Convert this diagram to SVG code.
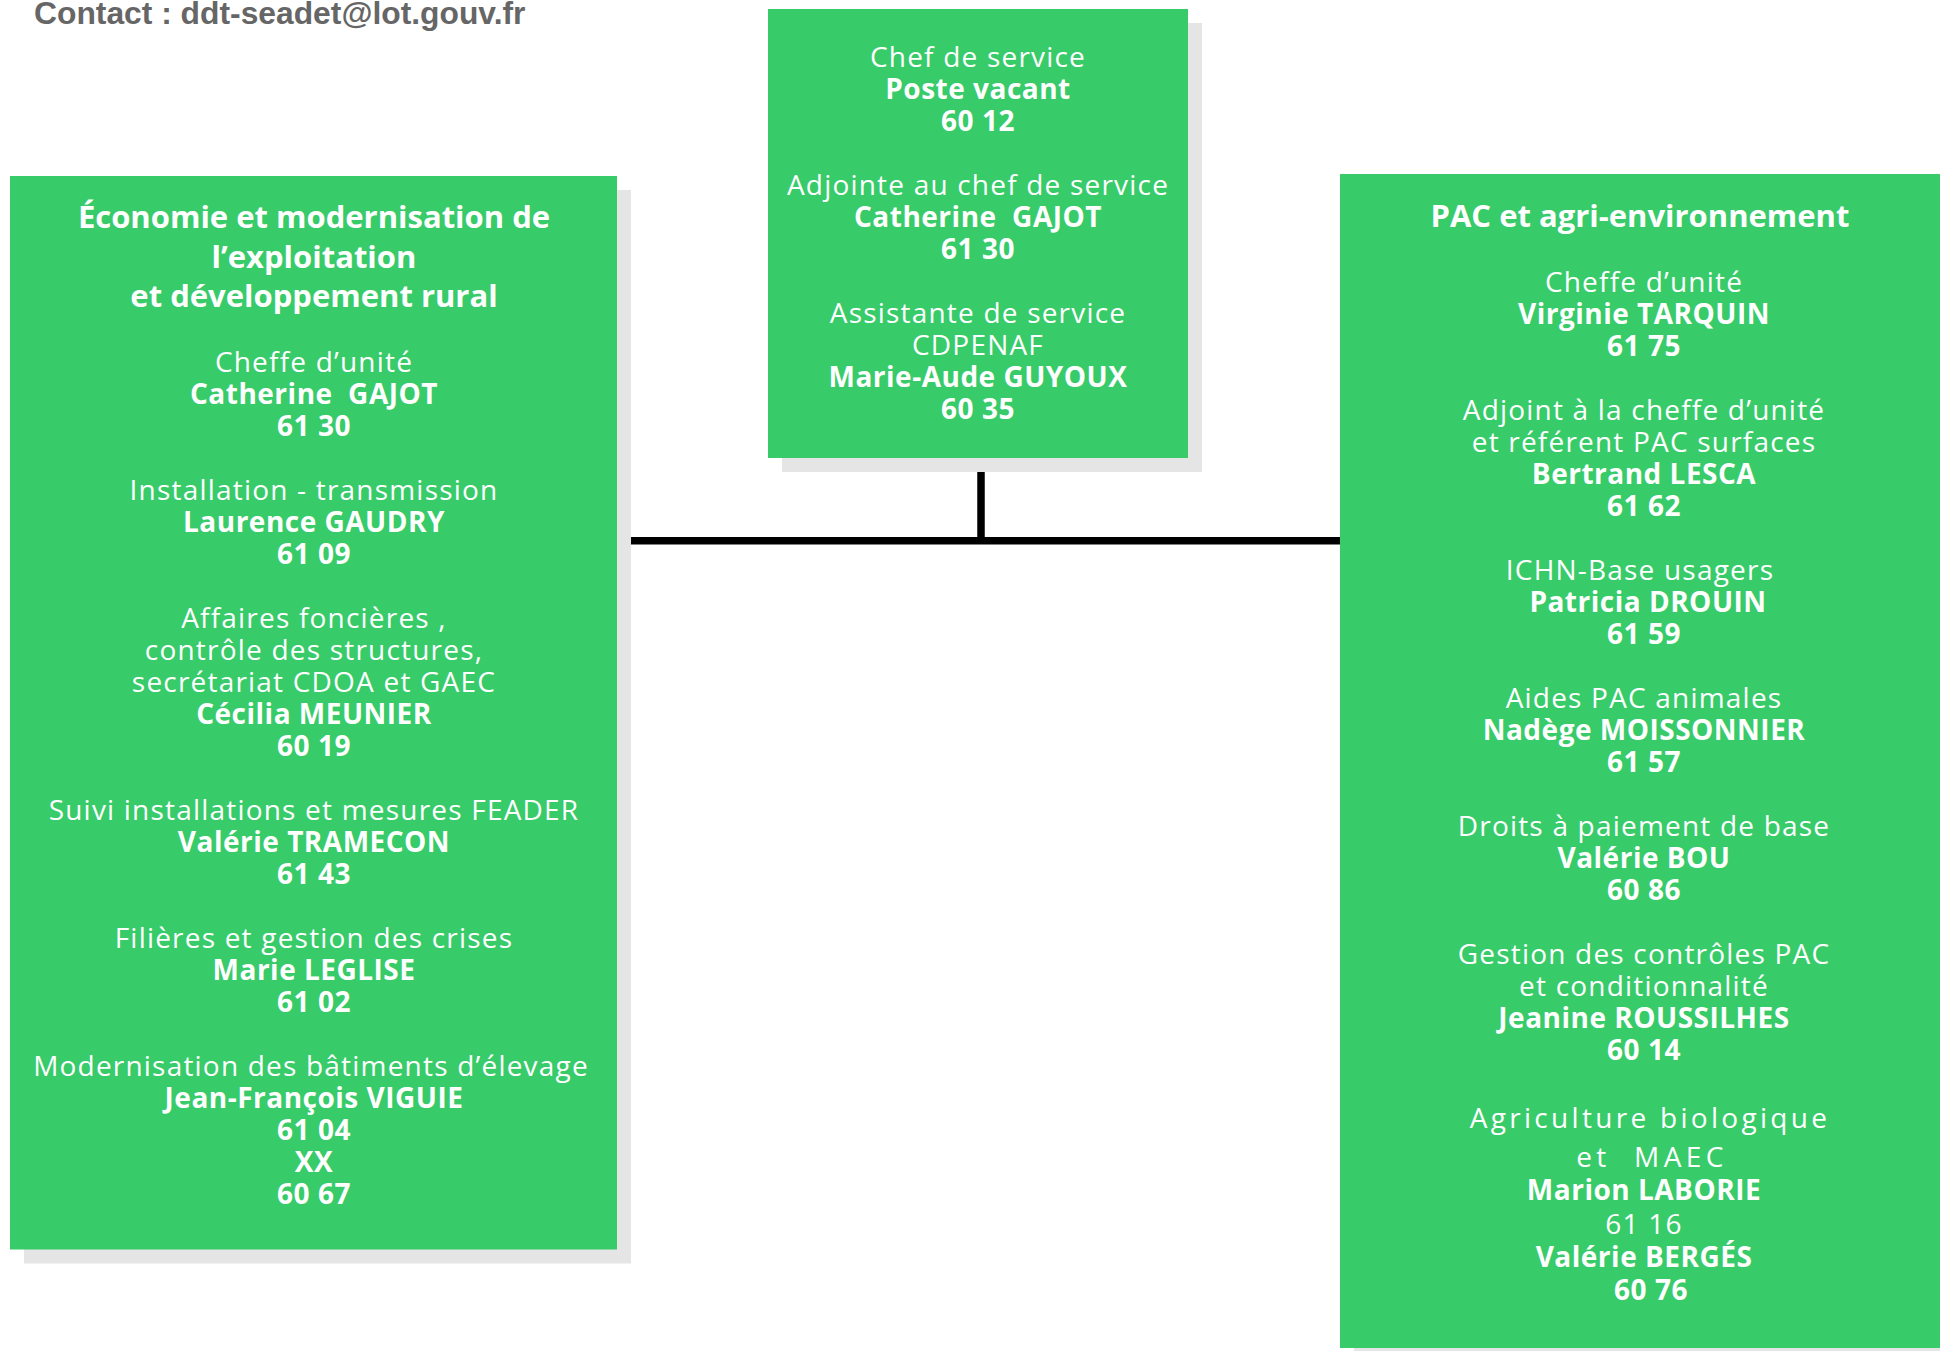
<svg xmlns="http://www.w3.org/2000/svg" width="1940" height="1351" viewBox="0 0 1940 1351" xml:space="preserve">
<style>
.box{fill:#37CB6A}
.sh{fill:#E5E5E5}
text{font-family:"Open Sans","Noto Sans","DejaVu Sans",sans-serif;fill:#fff;text-anchor:middle}
.r{font-size:28px;font-weight:400;letter-spacing:1.2px}
.b{font-size:28px;font-weight:700;letter-spacing:0.5px}
.t{font-size:31px;font-weight:700}
.sp1{font-size:28px;font-weight:400;letter-spacing:3.3px}
.sp2{font-size:28px;font-weight:400;letter-spacing:4.4px}
.contact{font-family:"Liberation Sans",Arial,sans-serif;font-size:31.8px;font-weight:700;fill:#666;text-anchor:start}
.ln{stroke:#000;fill:none}
</style>
<rect width="1940" height="1351" fill="#fff"/>
<text class="contact" x="34" y="23.5">Contact : ddt-seadet@lot.gouv.fr</text>
<g id="connectors">
<line class="ln" x1="981" y1="472" x2="981" y2="541" stroke-width="7.5"/>
<line class="ln" x1="631" y1="540.8" x2="1340" y2="540.8" stroke-width="7.5"/>
</g>
<g id="node-chef">
<rect class="sh" x="782" y="23" width="420" height="449"/>
<rect class="box" x="768" y="9" width="420" height="449"/>
<text class="r" x="978" y="66.7">Chef de service</text>
<text class="b" x="978" y="98.7">Poste vacant</text>
<text class="b" x="978" y="130.7">60 12</text>
<text class="r" x="978" y="194.7">Adjointe au chef de service</text>
<text class="b" x="978" y="226.7">Catherine&#160; GAJOT</text>
<text class="b" x="978" y="258.7">61 30</text>
<text class="r" x="978" y="322.7">Assistante de service</text>
<text class="r" x="978" y="354.7">CDPENAF</text>
<text class="b" x="978" y="386.7">Marie-Aude GUYOUX</text>
<text class="b" x="978" y="418.7">60 35</text>
</g>
<g id="node-economie">
<rect class="sh" x="24" y="190" width="607" height="1073.5"/>
<rect class="box" x="10" y="176" width="607" height="1073.5"/>
<text class="t" x="314" y="228.3">Économie et modernisation de</text>
<text class="t" x="314" y="267.7">l’exploitation</text>
<text class="t" x="314" y="306.7">et développement rural</text>
<text class="r" x="314" y="371.7">Cheffe d’unité</text>
<text class="b" x="314" y="403.7">Catherine&#160; GAJOT</text>
<text class="b" x="314" y="435.7">61 30</text>
<text class="r" x="314" y="499.7">Installation - transmission</text>
<text class="b" x="314" y="531.7">Laurence GAUDRY</text>
<text class="b" x="314" y="563.7">61 09</text>
<text class="r" x="314" y="627.7">Affaires foncières ,</text>
<text class="r" x="314" y="659.7">contrôle des structures,</text>
<text class="r" x="314" y="691.7">secrétariat CDOA et GAEC</text>
<text class="b" x="314" y="723.7">Cécilia MEUNIER</text>
<text class="b" x="314" y="755.7">60 19</text>
<text class="r" x="314" y="819.7">Suivi installations et mesures FEADER</text>
<text class="b" x="314" y="851.7">Valérie TRAMECON</text>
<text class="b" x="314" y="883.7">61 43</text>
<text class="r" x="314" y="947.7">Filières et gestion des crises</text>
<text class="b" x="314" y="979.7">Marie LEGLISE</text>
<text class="b" x="314" y="1011.7">61 02</text>
<text class="r" x="311" y="1075.7">Modernisation des bâtiments d’élevage</text>
<text class="b" x="314" y="1107.7">Jean-François VIGUIE</text>
<text class="b" x="314" y="1139.7">61 04</text>
<text class="b" x="314" y="1171.7">XX</text>
<text class="b" x="314" y="1203.7">60 67</text>
</g>
<g id="node-pac">
<rect class="sh" x="1354" y="188" width="600" height="1174"/>
<rect class="box" x="1340" y="174" width="600" height="1174"/>
<text class="t" x="1640" y="226.7">PAC et agri-environnement</text>
<text class="r" x="1644" y="291.7">Cheffe d’unité</text>
<text class="b" x="1644" y="323.7">Virginie TARQUIN</text>
<text class="b" x="1644" y="355.7">61 75</text>
<text class="r" x="1644" y="419.7">Adjoint à la cheffe d’unité</text>
<text class="r" x="1644" y="451.7">et référent PAC surfaces</text>
<text class="b" x="1644" y="483.7">Bertrand LESCA</text>
<text class="b" x="1644" y="515.7">61 62</text>
<text class="r" x="1640" y="579.7">ICHN-Base usagers</text>
<text class="b" x="1648" y="611.7">Patricia DROUIN</text>
<text class="b" x="1644" y="643.7">61 59</text>
<text class="r" x="1644" y="707.7">Aides PAC animales</text>
<text class="b" x="1644" y="739.7">Nadège MOISSONNIER</text>
<text class="b" x="1644" y="771.7">61 57</text>
<text class="r" x="1644" y="835.7">Droits à paiement de base</text>
<text class="b" x="1644" y="867.7">Valérie BOU</text>
<text class="b" x="1644" y="899.7">60 86</text>
<text class="r" x="1644" y="963.7">Gestion des contrôles PAC</text>
<text class="r" x="1644" y="995.7">et conditionnalité</text>
<text class="b" x="1644" y="1027.7">Jeanine ROUSSILHES</text>
<text class="b" x="1644" y="1059.7">60 14</text>
<text class="sp1" x="1650" y="1128">Agriculture biologique</text>
<text class="sp2" x="1652" y="1166.5">et&#160; MAEC</text>
<text class="b" x="1644" y="1199.5">Marion LABORIE</text>
<text class="r" x="1644" y="1234">61 16</text>
<text class="b" x="1644" y="1266.5">Valérie BERGÉS</text>
<text class="b" x="1651" y="1299.5">60 76</text>
</g>
</svg>
